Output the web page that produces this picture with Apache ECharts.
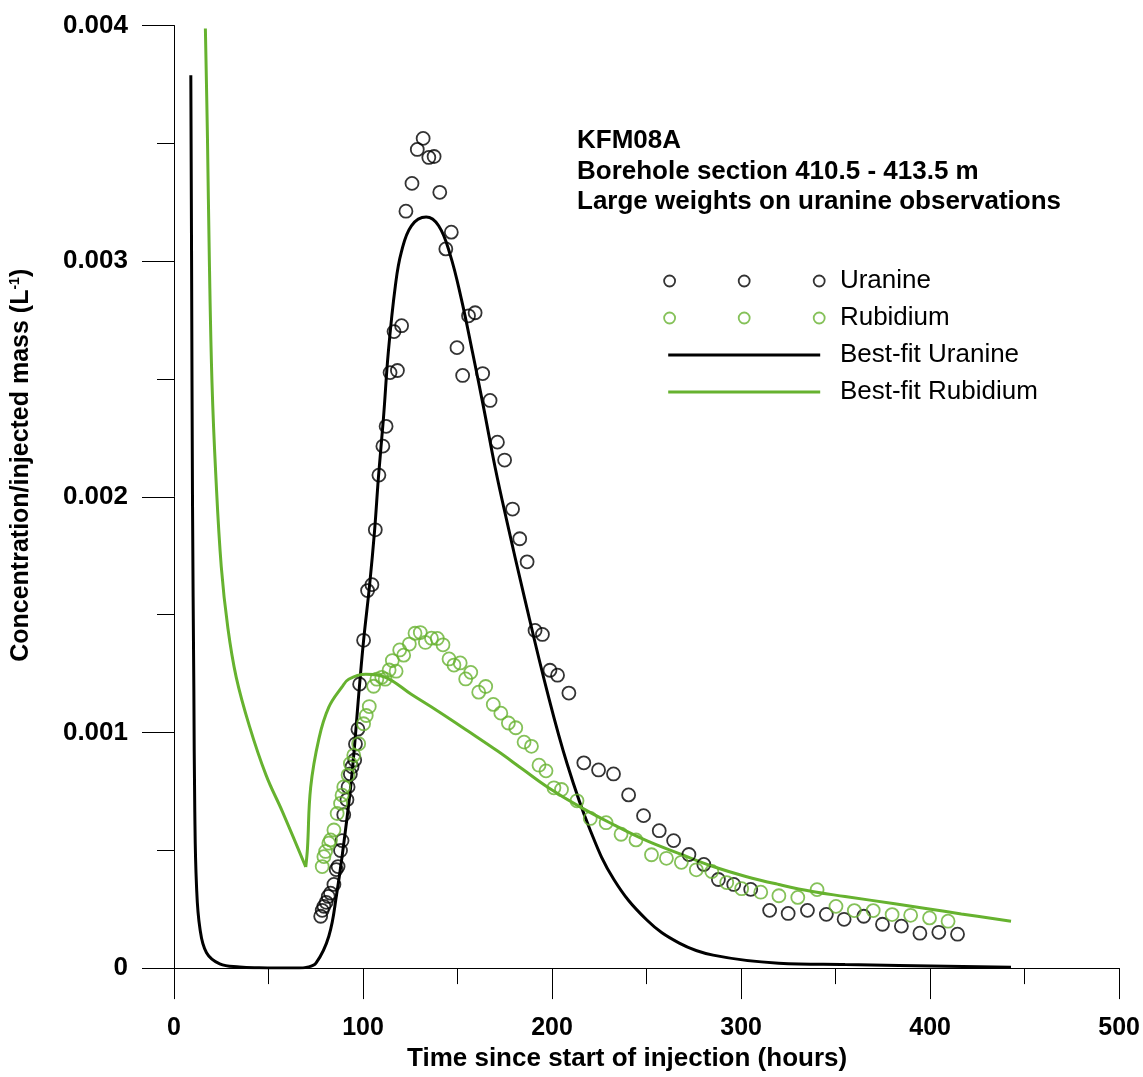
<!DOCTYPE html>
<html><head><meta charset="utf-8">
<script src="https://cdn.jsdelivr.net/npm/echarts@6/dist/echarts.min.js"></script>
<style>html,body{margin:0;padding:0;background:#fff}#c{width:1143px;height:1077px}</style>
</head><body><div id="c"></div><script>
const uranineTime = [77.6,78.4,79.3,80.5,81.6,82.8,84.6,85.8,86.8,88.1,88.9,89.8,91.5,92.1,93.3,94.2,95.6,96.0,97.3,98.2,100.3,102.4,104.7,106.5,108.4,110.5,112.2,114.3,116.4,118.2,120.4,122.7,125.9,128.7,131.8,134.8,137.6,140.6,143.8,146.7,149.7,152.7,155.8,159.3,163.3,167.2,171.1,174.9,179.1,182.9,186.8,191.0,194.9,198.9,202.9,208.9,216.8,224.6,232.5,240.5,248.4,256.7,264.3,272.4,280.3,288.0,296.1,305.1,315.1,324.9,335.1,345.1,354.5,364.9,374.8,384.8,394.6,404.6,414.5];
const uranineConc = [0.000220,0.000245,0.000262,0.000279,0.000304,0.000318,0.000355,0.000418,0.000431,0.000499,0.000541,0.000651,0.000714,0.000769,0.000824,0.000854,0.000883,0.000951,0.001014,0.001205,0.001391,0.001602,0.001627,0.001860,0.002092,0.002215,0.002299,0.002527,0.002701,0.002536,0.002726,0.003212,0.003330,0.003474,0.003521,0.003440,0.003444,0.003292,0.003052,0.003123,0.002633,0.002515,0.002768,0.002781,0.002523,0.002409,0.002232,0.002156,0.001948,0.001822,0.001724,0.001433,0.001416,0.001264,0.001243,0.001167,0.000871,0.000841,0.000824,0.000735,0.000647,0.000583,0.000541,0.000482,0.000440,0.000376,0.000355,0.000334,0.000245,0.000232,0.000245,0.000228,0.000207,0.000220,0.000186,0.000178,0.000148,0.000152,0.000144];

const rubidiumTime = [78.4,79.3,80.2,81.9,82.8,84.6,86.3,88.1,88.9,89.8,92.1,93.3,95.1,97.7,100.3,101.7,103.3,105.6,107.3,109.9,111.7,113.8,115.5,117.5,119.4,121.5,124.5,127.5,130.3,133.0,136.2,139.3,142.3,145.5,148.1,151.4,154.3,157.0,161.2,164.9,168.9,172.9,176.9,180.8,185.2,189.1,193.1,196.8,201.0,205.0,213.2,220.2,228.6,236.5,244.4,252.6,260.5,268.4,276.3,284.5,292.4,300.3,310.4,320.0,330.0,340.2,350.2,359.9,369.9,379.9,389.7,399.7,409.5];
const rubidiumConc = [0.000431,0.000473,0.000495,0.000530,0.000544,0.000586,0.000656,0.000699,0.000734,0.000769,0.000819,0.000868,0.000903,0.000952,0.001037,0.001072,0.001110,0.001196,0.001226,0.001234,0.001226,0.001265,0.001305,0.001260,0.001350,0.001328,0.001375,0.001421,0.001424,0.001382,0.001400,0.001399,0.001372,0.001312,0.001286,0.001295,0.001227,0.001255,0.001171,0.001195,0.001119,0.001082,0.001040,0.001020,0.000959,0.000941,0.000861,0.000837,0.000765,0.000758,0.000710,0.000635,0.000617,0.000568,0.000544,0.000481,0.000466,0.000449,0.000417,0.000410,0.000363,0.000337,0.000322,0.000307,0.000300,0.000333,0.000262,0.000244,0.000244,0.000227,0.000224,0.000213,0.000199];

const fitUranineTime = [8.9,9.3,9.8,10.5,11.0,11.9,13.7,17.2,24.2,34.7,45,55,66.2,70,75.1,81.9,86.1,89.8,94.0,98.2,100.3,103.5,106.1,108.2,110.8,113.4,117.1,120.3,125.6,133.4,140.0,146.0,152.0,158.0,164.0,170.0,176.0,185.4,197.5,208.0,220.1,232.7,250.0,267.3,285.2,319.9,355.0,442.8];
const fitUranineConc = [0.003789,0.003004,0.001964,0.001183,0.000663,0.000351,0.000169,0.000065,0.000018,0.000005,0.000001,0,0,0.000003,0.000021,0.000135,0.000317,0.000528,0.000811,0.001205,0.001391,0.001627,0.001855,0.002088,0.002333,0.002616,0.002895,0.003039,0.003150,0.003187,0.003150,0.003030,0.002840,0.002610,0.002370,0.002120,0.001900,0.001572,0.001171,0.000866,0.000587,0.000376,0.000205,0.000106,0.000055,0.000021,0.000015,0.000004];

const fitRubidiumTime = [16.6,17.7,18.7,20.1,22.1,25.0,28.5,32.9,39.9,48.7,57.4,69.7,70.6,72.3,76.7,81.9,88.8,92.4,101.4,111.9,125.5,139.7,155.5,171.2,184.3,197.5,214.8,232.7,250.0,267.3,285.2,302.5,319.9,337.7,355.0,381.3,398.6,416.5,442.8];
const fitRubidiumConc = [0.003987,0.003524,0.003004,0.002484,0.002094,0.001704,0.001443,0.001235,0.001027,0.000819,0.000663,0.000429,0.000507,0.000767,0.000975,0.001107,0.001192,0.001226,0.001247,0.001234,0.001162,0.001090,0.001006,0.000921,0.000845,0.000769,0.000684,0.000608,0.000541,0.000486,0.000431,0.000389,0.000355,0.000325,0.000304,0.000273,0.000252,0.000230,0.000199];

const xTickValues = [0,100,200,300,400,500];
const yTickValues = [0,0.001,0.002,0.003,0.004];
const titleLines = ['KFM08A','Borehole section 410.5 - 413.5 m','Large weights on uranine observations'];
const seriesNames = ['Uranine','Rubidium','Best-fit Uranine','Best-fit Rubidium'];
const xAxisTitle = 'Time since start of injection (hours)';

const GREEN = '#66b22f';
const FONT = '"Liberation Sans", Arial, Helvetica, sans-serif';
const zip = (a, b) => a.map((t, i) => [t, b[i]]);

// split rubidium fit at its cusp (local minimum before the rise)
let cusp = 0;
for (let i = 1; i < fitRubidiumConc.length - 1; i++) {
  if (fitRubidiumConc[i] < fitRubidiumConc[i - 1] && fitRubidiumConc[i] < fitRubidiumConc[i + 1]) { cusp = i; break; }
}
const fitRb = zip(fitRubidiumTime, fitRubidiumConc);

const circlesIcon = 'path://M0,0M171,12M0.2,6a5.5,5.5 0 1,0 11,0a5.5,5.5 0 1,0 -11,0Z M74.8,6a5.5,5.5 0 1,0 11,0a5.5,5.5 0 1,0 -11,0Z M149.8,6a5.5,5.5 0 1,0 11,0a5.5,5.5 0 1,0 -11,0Z';
const lineIcon = 'path://M0,0M171,12M4.3,4.5H156.3V7.5H4.3Z';

const chart = echarts.init(document.getElementById('c'), null, {renderer: 'canvas'});
chart.setOption({
  animation: false,
  backgroundColor: '#fff',
  grid: {left: 174, right: 17, top: 25.5, bottom: 105, containLabel: false},
  title: {
    text: titleLines.join('\n'), left: 577, top: 126, padding: 0,
    textStyle: {fontFamily: FONT, fontWeight: 'bold', fontSize: 26, lineHeight: 30.4, color: '#000'}
  },
  legend: {
    orient: 'vertical', left: 663, top: 268, padding: 0,
    itemWidth: 171, itemHeight: 12, itemGap: 11, selectedMode: false, symbolKeepAspect: true,
    textStyle: {fontFamily: FONT, fontSize: 26, lineHeight: 26, color: '#000'},
    data: [
      {name: seriesNames[0], icon: circlesIcon, itemStyle: {color: 'rgba(0,0,0,0)', borderColor: '#000', borderWidth: 1.8}},
      {name: seriesNames[1], icon: circlesIcon, itemStyle: {color: 'rgba(0,0,0,0)', borderColor: GREEN, borderWidth: 1.8}},
      {name: seriesNames[2], icon: lineIcon, itemStyle: {color: '#000', borderWidth: 0}},
      {name: seriesNames[3], icon: lineIcon, itemStyle: {color: GREEN, borderWidth: 0}}
    ]
  },
  xAxis: {
    type: 'value', min: xTickValues[0], max: xTickValues[xTickValues.length - 1], interval: xTickValues[1] - xTickValues[0],
    axisLine: {show: true, onZero: false, lineStyle: {color: '#000', width: 1}},
    axisTick: {show: true, length: 31, lineStyle: {color: '#000', width: 1}},
    minorTick: {show: true, splitNumber: 2, length: 16, lineStyle: {color: '#000', width: 1}},
    splitLine: {show: false},
    axisLabel: {margin: 48, fontFamily: FONT, fontWeight: 'bold', fontSize: 25, color: '#000'},
    name: xAxisTitle, nameLocation: 'middle', nameGap: 74,
    nameTextStyle: {fontFamily: FONT, fontWeight: 'bold', fontSize: 26, color: '#000', padding: [0, 39, 0, 0]}
  },
  yAxis: {
    type: 'value', min: yTickValues[0], max: yTickValues[yTickValues.length - 1], interval: yTickValues[1] - yTickValues[0],
    axisLine: {show: true, onZero: false, lineStyle: {color: '#000', width: 1}},
    axisTick: {show: true, length: 32, lineStyle: {color: '#000', width: 1}},
    minorTick: {show: true, splitNumber: 2, length: 17, lineStyle: {color: '#000', width: 1}},
    splitLine: {show: false},
    axisLabel: {margin: 46, fontFamily: FONT, fontWeight: 'bold', fontSize: 26, color: '#000',
      formatter: v => (Math.abs(v) < 1e-12 ? '0' : v.toFixed(3))},
    name: '{a|Concentration/injected mass (L}{s|-1}{a|)}', nameLocation: 'middle', nameRotate: 90, nameGap: 140,
    nameTextStyle: {fontFamily: FONT, fontWeight: 'bold', fontSize: 25, color: '#000', padding: [0, 0, 0, 63],
      rich: {
        a: {fontFamily: FONT, fontWeight: 'bold', fontSize: 25, color: '#000'},
        s: {fontFamily: FONT, fontWeight: 'bold', fontSize: 14, color: '#000', padding: [0, 0, 12, 0]}
      }}
  },
  series: [
    {name: seriesNames[2], type: 'line', data: zip(fitUranineTime, fitUranineConc), showSymbol: false, symbol: 'none',
      smooth: 0.4, lineStyle: {color: '#000', width: 3}, itemStyle: {color: '#000'}, z: 2},
    {name: seriesNames[3], type: 'line', data: fitRb.slice(0, cusp + 1), showSymbol: false, symbol: 'none',
      smooth: 0.4, lineStyle: {color: GREEN, width: 3}, itemStyle: {color: GREEN}, z: 2},
    {name: seriesNames[3], type: 'line', data: fitRb.slice(cusp), showSymbol: false, symbol: 'none',
      smooth: 0.4, lineStyle: {color: GREEN, width: 3}, itemStyle: {color: GREEN}, z: 2},
    {name: seriesNames[0], type: 'scatter', data: zip(uranineTime, uranineConc), symbol: 'circle', symbolSize: 13,
      itemStyle: {color: 'rgba(0,0,0,0)', borderColor: '#000', borderWidth: 1.8}, z: 3},
    {name: seriesNames[1], type: 'scatter', data: zip(rubidiumTime, rubidiumConc), symbol: 'circle', symbolSize: 13,
      itemStyle: {color: 'rgba(0,0,0,0)', borderColor: GREEN, borderWidth: 1.8}, z: 3}
  ]
});
</script></body></html>
